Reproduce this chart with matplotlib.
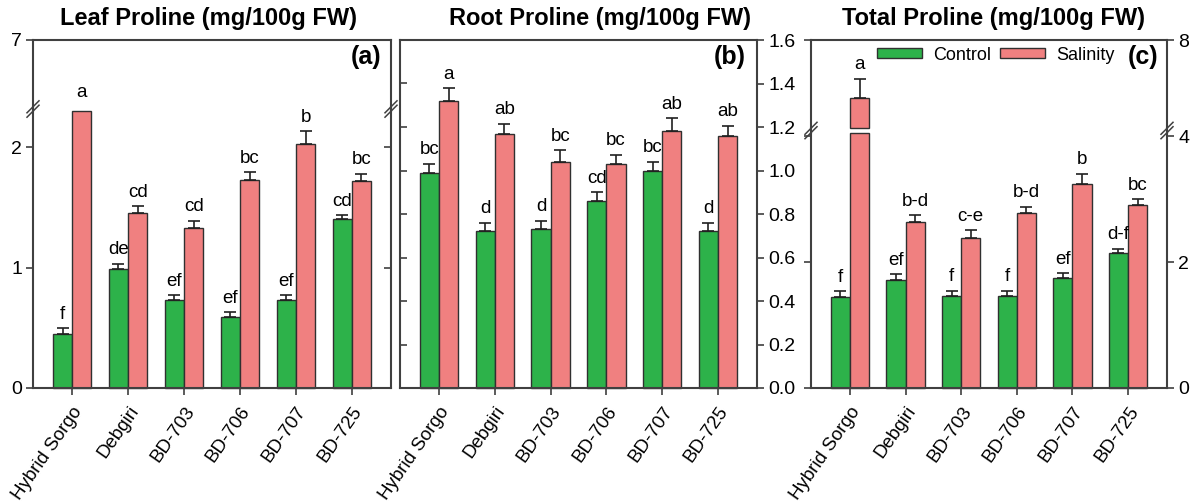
import numpy as np
import matplotlib
matplotlib.use('Agg')
import matplotlib.pyplot as plt
from matplotlib.lines import Line2D
from matplotlib.patches import Patch

plt.rcParams['font.family'] = ['Liberation Sans', 'DejaVu Sans']

genotypes = ['Hybrid Sorgo', 'Debgiri', 'BD-703', 'BD-706', 'BD-707', 'BD-725']

# leaf proline (mg/100g FW)
leaf_control = [0.45, 0.99, 0.73, 0.59, 0.73, 1.40]
leaf_control_err = [0.045, 0.04, 0.04, 0.04, 0.04, 0.035]
leaf_salinity = [4.05, 1.45, 1.33, 1.73, 2.03, 1.72]
leaf_salinity_err = [0.0, 0.06, 0.06, 0.06, 0.10, 0.06]
leaf_control_grp = ['f', 'de', 'ef', 'ef', 'ef', 'cd']
leaf_salinity_grp = ['a', 'cd', 'cd', 'bc', 'b', 'bc']

# root proline
root_control = [0.99, 0.72, 0.73, 0.86, 1.00, 0.72]
root_control_err = [0.04, 0.04, 0.04, 0.04, 0.04, 0.04]
root_salinity = [1.32, 1.17, 1.04, 1.03, 1.18, 1.16]
root_salinity_err = [0.058, 0.046, 0.053, 0.043, 0.06, 0.045]
root_control_grp = ['bc', 'd', 'd', 'cd', 'bc', 'd']
root_salinity_grp = ['a', 'ab', 'bc', 'bc', 'ab', 'ab']

# total proline
total_control = [1.44, 1.71, 1.46, 1.455, 1.74, 2.14]
total_control_err = [0.095, 0.095, 0.085, 0.085, 0.085, 0.07]
total_salinity = [5.37, 2.635, 2.386, 2.773, 3.24, 2.90]
total_salinity_err = [0.87, 0.11, 0.12, 0.105, 0.16, 0.095]
total_control_grp = ['f', 'ef', 'f', 'f', 'ef', 'd-f']
total_salinity_grp = ['a', 'b-d', 'c-e', 'b-d', 'b', 'bc']

GREEN = '#2db24a'
RED = '#f08080'
EDGE = '#303030'
SPINE = '#404040'

W, H = 1191, 501
fig = plt.figure(figsize=(W / 100, H / 100), dpi=100)

x = np.arange(len(genotypes))
bw = 0.345


def add_ax(x0, x1, ytop, ybot):
    ax = fig.add_axes([x0 / W, 1 - ybot / H, (x1 - x0) / W, (ybot - ytop) / H])
    for s in ax.spines.values():
        s.set_color(SPINE)
        s.set_linewidth(1.5)
    ax.set_xlim(-0.7, 5.7)
    return ax


def draw_bars(segments, ctrl, ctrl_err, sal, sal_err):
    # segments: list of axes from bottom to top, ylim already set
    ekw = dict(ecolor='#202020', elinewidth=1.2, capsize=4, capthick=1.2)
    for xs, vals, errs, col in [(x - bw / 2, ctrl, ctrl_err, GREEN), (x + bw / 2, sal, sal_err, RED)]:
        vals = np.asarray(vals)
        errs = np.asarray(errs)
        for ax in segments:
            lo, hi = ax.get_ylim()
            shown = vals > lo
            base = lo if lo > 0 else 0
            heights = np.clip(vals, base, hi) - base
            ax.bar(xs[shown], heights[shown], bw, bottom=base, color=col,
                   edgecolor=EDGE, linewidth=1, clip_on=False)
            inside = shown & (vals <= hi)
            ax.errorbar(xs[inside], vals[inside], yerr=[np.zeros(inside.sum()), errs[inside]],
                        fmt='none', **ekw)


def letters(axes, ctrl, ctrl_err, sal, sal_err, cg, sg):
    for xs, vals, errs, grp in [(x - bw / 2, ctrl, ctrl_err, cg), (x + bw / 2, sal, sal_err, sg)]:
        for xi, v, e, g in zip(xs, vals, errs, grp):
            top = v + e
            target = axes[0]
            if top > axes[0].get_ylim()[1] and len(axes) > 1:
                target = axes[1]
                top = max(top, target.get_ylim()[0])
            target.annotate(g, (xi, top), xytext=(0, 4), textcoords='offset points',
                            ha='center', va='bottom', fontsize=13.5, annotation_clip=False)


def set_y(ax, lim, ticks, fmt, label_side, left_dir, right_dir):
    ax.set_ylim(*lim)
    ax.set_yticks(ticks)
    ax.set_yticklabels([fmt.format(t) for t in ticks])
    ax.tick_params(axis='y', direction=left_dir, length=5, width=1.2, labelsize=14,
                   left=True, right=False, labelleft=(label_side == 'left'), pad=3, color=SPINE)
    axr = ax.twinx()
    axr.set_ylim(*lim)
    axr.set_yticks(ticks)
    axr.set_yticklabels([fmt.format(t) for t in ticks])
    axr.tick_params(axis='y', direction=right_dir, length=5, width=1.2, labelsize=14,
                    left=False, right=True, labelright=(label_side == 'right'), pad=3, color=SPINE)
    for s in axr.spines.values():
        s.set_visible(False)


def set_x(ax, show):
    ax.set_xticks(x)
    if show:
        ax.set_xticklabels(genotypes, rotation=55, ha='right', va='top',
                           rotation_mode='anchor', fontsize=13.5)
        ax.tick_params(axis='x', direction='out', length=5, width=1.2, color=SPINE, pad=6)
    else:
        ax.tick_params(axis='x', bottom=False, labelbottom=False)


def join_break(xs, y_low_top, y_up_bot):
    for xp in xs:
        fig.add_artist(Line2D([xp / W, xp / W], [1 - y_low_top / H, 1 - y_up_bot / H],
                              color=SPINE, lw=1.5, transform=fig.transFigure))
        yc = (y_low_top + y_up_bot) / 2
        for d in (-2.2, 2.2):
            fig.add_artist(Line2D([(xp - 6) / W, (xp + 6) / W],
                                  [1 - (yc + 6 + d) / H, 1 - (yc - 6 + d) / H],
                                  color=SPINE, lw=1.1, transform=fig.transFigure))


# (a) leaf, broken axis
a_lo = add_ax(33, 391, 111, 388)
a_hi = add_ax(33, 391, 40, 107)
a_lo.spines['top'].set_visible(False)
a_hi.spines['bottom'].set_visible(False)
set_y(a_lo, (0, 2.3), [0, 1, 2], '{:g}', 'left', 'out', 'in')
set_y(a_hi, (4.2, 7), [7], '{:g}', 'left', 'out', 'in')
draw_bars([a_lo, a_hi], leaf_control, leaf_control_err, leaf_salinity, leaf_salinity_err)
set_x(a_lo, True)
set_x(a_hi, False)
letters([a_lo, a_hi], leaf_control, leaf_control_err, leaf_salinity, leaf_salinity_err,
        leaf_control_grp, leaf_salinity_grp)
join_break([33, 391], 111, 107)

# (b) root
b = add_ax(400, 757, 40, 388)
set_y(b, (0, 1.6), np.arange(0, 1.61, 0.2), '{:.1f}', 'right', 'in', 'out')
draw_bars([b], root_control, root_control_err, root_salinity, root_salinity_err)
set_x(b, True)
letters([b], root_control, root_control_err, root_salinity, root_salinity_err,
        root_control_grp, root_salinity_grp)

# (c) total, broken axis
c_lo = add_ax(811, 1167, 133, 388)
c_hi = add_ax(811, 1167, 40, 128)
c_lo.spines['top'].set_visible(False)
c_hi.spines['bottom'].set_visible(False)
set_y(c_lo, (0, 4.05), [0, 2, 4], '{:g}', 'right', 'out', 'out')
set_y(c_hi, (4, 8), [8], '{:g}', 'right', 'out', 'out')
draw_bars([c_lo, c_hi], total_control, total_control_err, total_salinity, total_salinity_err)
set_x(c_lo, True)
set_x(c_hi, False)
letters([c_lo, c_hi], total_control, total_control_err, total_salinity, total_salinity_err,
        total_control_grp, total_salinity_grp)
join_break([811, 1167], 133, 128)

# titles and panel tags
for xc, t in [(208, 'Leaf Proline (mg/100g FW)'), (600, 'Root Proline (mg/100g FW)'),
              (993, 'Total Proline (mg/100g FW)')]:
    fig.text(xc / W, 1 - 19 / H, t, ha='center', va='center', fontsize=17, fontweight='bold')
for xr, t in [(381, '(a)'), (746, '(b)'), (1158, '(c)')]:
    fig.text(xr / W, 1 - 57 / H, t, ha='right', va='center', fontsize=18, fontweight='bold')

handles = [Patch(facecolor=GREEN, edgecolor=EDGE, linewidth=1),
           Patch(facecolor=RED, edgecolor=EDGE, linewidth=1)]
fig.legend(handles, ['Control', 'Salinity'], loc='center', bbox_to_anchor=(996 / W, 1 - 55 / H),
           ncol=2, frameon=False, fontsize=13, handlelength=2.5, handleheight=0.45,
           handletextpad=0.6, columnspacing=0.5, borderpad=0, borderaxespad=0)

fig.savefig('out.png', dpi=100)
